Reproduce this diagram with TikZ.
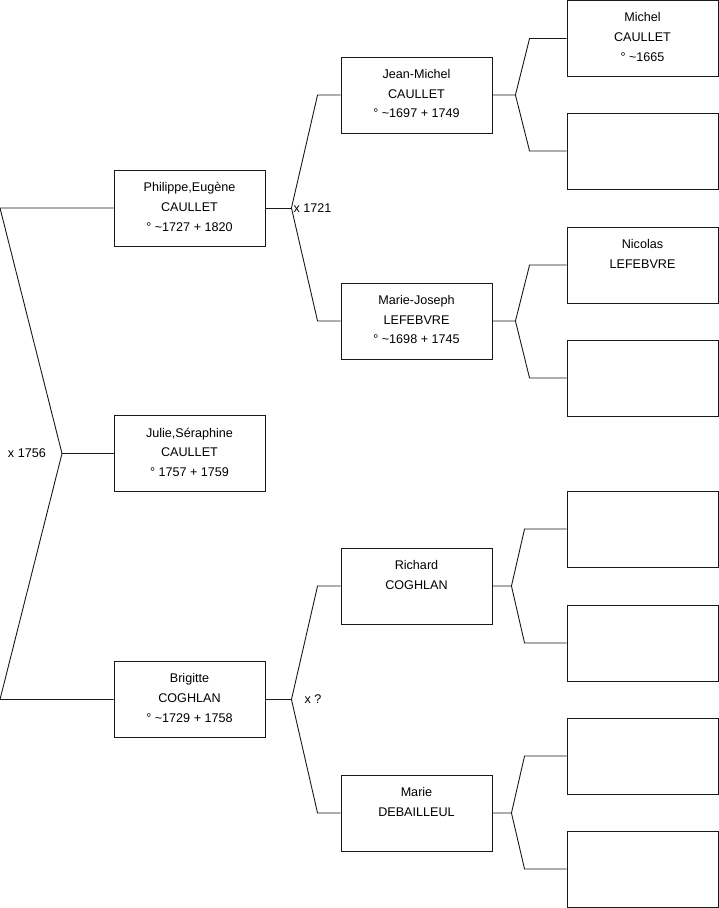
\documentclass[tikz,border=0pt]{standalone}
\usepackage{fontspec}
\setmainfont{Liberation Sans}
\usepackage{tikz}
\usetikzlibrary{positioning, calc}

\begin{document}
\begin{tikzpicture}[
  x=1pt, y=-1pt,
  box/.style={draw=black!90, line width=0.9pt, minimum width=151pt, minimum height=76pt, inner sep=0pt},
  person/.style={box, label={[txt]north:{#1}}},
  txt/.style={anchor=north, yshift=-12.6pt, align=center, inner sep=0pt, font=\fontsize{12.6}{19.7}\selectfont, execute at begin node=\strut},
  link/.style={draw=black!90, line width=0.9pt},
  wed/.style={font=\fontsize{12.6}{15}\selectfont, inner sep=0pt}
]
\useasboundingbox (0,0) rectangle (719,908);

\def\xA{189.5}
\def\xB{416.5}
\def\xC{642.5}

% generation 0
\node[person={Philippe,Eugène\\CAULLET\\° \textasciitilde1727 + 1820}] (p-phil) at (\xA,208) {};
\node[person={Julie,Séraphine\\CAULLET\\° 1757 + 1759}] (p-julie) at (\xA,453.5) {};
\node[person={Brigitte\\COGHLAN\\° \textasciitilde1729 + 1758}] (p-brig) at (\xA,699.5) {};

% generation 1
\node[person={Jean-Michel\\CAULLET\\° \textasciitilde1697 + 1749}] (p-jm) at (\xB,95) {};
\node[person={Marie-Joseph\\LEFEBVRE\\° \textasciitilde1698 + 1745}] (p-mj) at (\xB,321) {};
\node[person={Richard\\COGHLAN}] (p-rich) at (\xB,586) {};
\node[person={Marie\\DEBAILLEUL}] (p-mdeb) at (\xB,813) {};

% generation 2
\node[person={Michel\\CAULLET\\° \textasciitilde1665}] (p-mich) at (\xC,38.5) {};
\node[box] (p-b2) at (\xC,151) {};
\node[person={Nicolas\\LEFEBVRE}] (p-nic) at (\xC,265) {};
\node[box] (p-b4) at (\xC,378) {};
\node[box] (p-b5) at (\xC,529) {};
\node[box] (p-b6) at (\xC,643) {};
\node[box] (p-b7) at (\xC,756) {};
\node[box] (p-b8) at (\xC,869) {};

% forks
\coordinate (e-top) at (0,208);
\coordinate (e-bot) at (0,699.5);
\coordinate (f-root) at (62,453.5);
\coordinate (f-phil) at ([xshift=26pt]p-phil.east);
\coordinate (f-brig) at ([xshift=26pt]p-brig.east);

\draw[link] (p-phil.west) -- (e-top) -- (f-root) -- (e-bot) -- (p-brig.west);
\draw[link] (f-root) -- (p-julie.west);
\node[wed, anchor=east] (w-root) at ([xshift=-16pt]f-root) {x 1756};

\draw[link] (p-phil.east) -- (f-phil);
\draw[link] (p-brig.east) -- (f-brig);
\foreach \f/\a/\b in {f-phil/p-jm/p-mj, f-brig/p-rich/p-mdeb} {
  \draw[link] (\a.west) -- ([xshift=-23pt]\a.west) -- (\f) -- ([xshift=-23pt]\b.west) -- (\b.west);
}
\node[wed, anchor=west] (w-phil) at ([xshift=2pt]f-phil) {x 1721};
\node[wed, anchor=west] (w-brig) at ([xshift=13pt]f-brig) {x ?};

\foreach \p/\a/\b/\s/\t in {p-jm/p-mich/p-b2/23/37, p-mj/p-nic/p-b4/23/37, p-rich/p-b5/p-b6/19/42, p-mdeb/p-b7/p-b8/19/42} {
  \draw[link] (\p.east) -- ([xshift=\s pt]\p.east) coordinate (f-\p)
    -- ([xshift=-\t pt]\a.west) -- (\a.west);
  \draw[link] (f-\p) -- ([xshift=-\t pt]\b.west) -- (\b.west);
}

\end{tikzpicture}
\end{document}
